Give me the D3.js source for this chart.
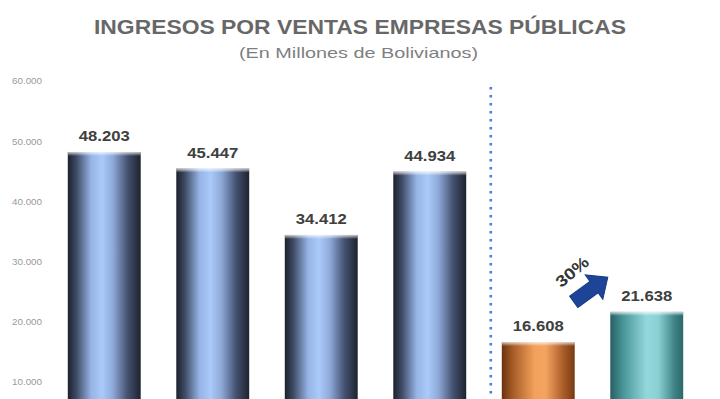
<!DOCTYPE html>
<meta charset="utf-8">
<style>
body { margin: 0; background: #fff; }
svg { display: block; font-family: Arial, "Liberation Sans", sans-serif; }
.tick text { fill: #9a9a9a; font-size: 8.5px; }
.val { fill: #404040; font-size: 14px; font-weight: bold; }
</style>
<svg width="720" height="399"></svg>
<script src="https://d3js.org/d3.v7.min.js"></script>
<script>

// data (category labels are cut off below the frame)
var categories = ["2006", "2007", "2008", "2009", "Ene-Jun 2009", "Ene-Jun 2010"];
var values = [48203, 45447, 34412, 44934, 16608, 21638];
var tickValues = [10000, 20000, 30000, 40000, 50000, 60000];
var growthLabel = "30%";

var gradOf = ["blue", "blue", "blue", "blue", "orange", "teal"];

var locale = d3.formatLocale({decimal: ",", thousands: ".", grouping: [3], currency: ["", ""]});
var fmt = locale.format(",d");

var svg = d3.select("svg");

var x = d3.scaleBand()
    .domain(categories)
    .range([50, 701])
    .paddingInner(0.328)
    .paddingOuter(0.164);

var y = d3.scaleLinear()
    .domain([0, 60000])
    .range([442, 81]);

// gradients
var defs = svg.append("defs");
var grads = {
  blue: [[0, "#1b212c"], [0.12, "#3f4c66"], [0.32, "#96b4e6"], [0.47, "#aacaf9"], [0.62, "#8ea9d8"], [0.82, "#445170"], [1, "#1d232e"]],
  orange: [[0, "#6a3210"], [0.15, "#a65c26"], [0.45, "#f3a15c"], [0.6, "#f4a461"], [0.85, "#a95b27"], [1, "#773a14"]],
  teal: [[0, "#275f63"], [0.18, "#4a969a"], [0.5, "#94d8dc"], [0.66, "#8ad0d3"], [0.88, "#3f8387"], [1, "#2c686a"]]
};
Object.keys(grads).forEach(function(k) {
  var lg = defs.append("linearGradient").attr("id", "g-" + k)
      .attr("x1", "0%").attr("x2", "100%").attr("y1", "0%").attr("y2", "0%");
  grads[k].forEach(function(s) {
    lg.append("stop").attr("offset", s[0]).attr("stop-color", s[1]);
  });
});
var hl = defs.append("linearGradient").attr("id", "g-top")
    .attr("x1", "0%").attr("x2", "0%").attr("y1", "0%").attr("y2", "100%");
hl.append("stop").attr("offset", 0).attr("stop-color", "#fff").attr("stop-opacity", 0.75);
hl.append("stop").attr("offset", 1).attr("stop-color", "#fff").attr("stop-opacity", 0);

// title
svg.append("text")
    .attr("x", 360).attr("y", 34)
    .attr("text-anchor", "middle")
    .attr("textLength", 532).attr("lengthAdjust", "spacingAndGlyphs")
    .style("font-size", "20px").style("font-weight", "bold").style("fill", "#676767")
    .text("INGRESOS POR VENTAS EMPRESAS PÚBLICAS");

svg.append("text")
    .attr("x", 358.5).attr("y", 58)
    .attr("text-anchor", "middle")
    .attr("textLength", 239).attr("lengthAdjust", "spacingAndGlyphs")
    .style("font-size", "14.5px").style("fill", "#7f7f7f")
    .text("(En Millones de Bolivianos)");

// y axis, labels only
var yAxis = svg.append("g")
    .attr("transform", "translate(42,0)")
    .call(d3.axisLeft(y).tickValues(tickValues).tickFormat(fmt).tickSize(0).tickPadding(0));
yAxis.select(".domain").remove();
yAxis.selectAll(".tick text")
    .attr("dy", "0.35em")
    .attr("textLength", 30).attr("lengthAdjust", "spacingAndGlyphs");

// bars
var bar = svg.selectAll(".bar")
  .data(values)
  .enter().append("g")
    .attr("class", "bar");

bar.append("rect")
    .attr("x", function(d, i) { return x(categories[i]); })
    .attr("y", function(d) { return y(d); })
    .attr("width", x.bandwidth())
    .attr("height", function(d) { return y(0) - y(d); })
    .attr("fill", function(d, i) { return "url(#g-" + gradOf[i] + ")"; });

bar.append("rect")
    .attr("x", function(d, i) { return x(categories[i]); })
    .attr("y", function(d) { return y(d); })
    .attr("width", x.bandwidth())
    .attr("height", 4)
    .attr("fill", "url(#g-top)");

bar.append("text")
    .attr("class", "val")
    .attr("x", function(d, i) { return x(categories[i]) + x.bandwidth() / 2; })
    .attr("y", function(d) { return y(d) - 11; })
    .attr("text-anchor", "middle")
    .attr("textLength", 51).attr("lengthAdjust", "spacingAndGlyphs")
    .text(function(d) { return fmt(d); });

// dotted separator
var sepX = x(categories[4]) - 11;
svg.append("line")
    .attr("x1", sepX).attr("x2", sepX)
    .attr("y1", y(59000)).attr("y2", y(0))
    .attr("stroke", "#4a7dd6")
    .attr("stroke-width", 2.6)
    .attr("stroke-dasharray", "2.6,5.4");

// growth arrow between the last two bars
var tail = [x(categories[4]) + x.bandwidth() - 1, y(23300)];
var tip = [x(categories[5]) - 2.5, y(27400)];
var dx = tip[0] - tail[0], dy = tip[1] - tail[1];
var len = Math.sqrt(dx * dx + dy * dy);
var ang = Math.atan2(dy, dx) * 180 / Math.PI;
var sw = 7, hw = 15, hlen = 17;
var arrow = [[0, -sw], [len - hlen, -sw], [len - hlen, -hw], [len, 0], [len - hlen, hw], [len - hlen, sw], [0, sw]];
svg.append("path")
    .attr("d", d3.line()(arrow) + "Z")
    .attr("transform", "translate(" + tail[0] + "," + tail[1] + ") rotate(" + ang + ")")
    .attr("fill", "#1c4597")
    .attr("stroke", "#163a82")
    .attr("stroke-width", 1);

svg.append("text")
    .attr("transform", "translate(" + (tail[0] + 2) + "," + (tip[1] - 1) + ") rotate(-40)")
    .attr("text-anchor", "middle")
    .attr("textLength", 38).attr("lengthAdjust", "spacingAndGlyphs")
    .style("font-size", "16px").style("font-weight", "bold").style("fill", "#333")
    .text(growthLabel);

</script>
